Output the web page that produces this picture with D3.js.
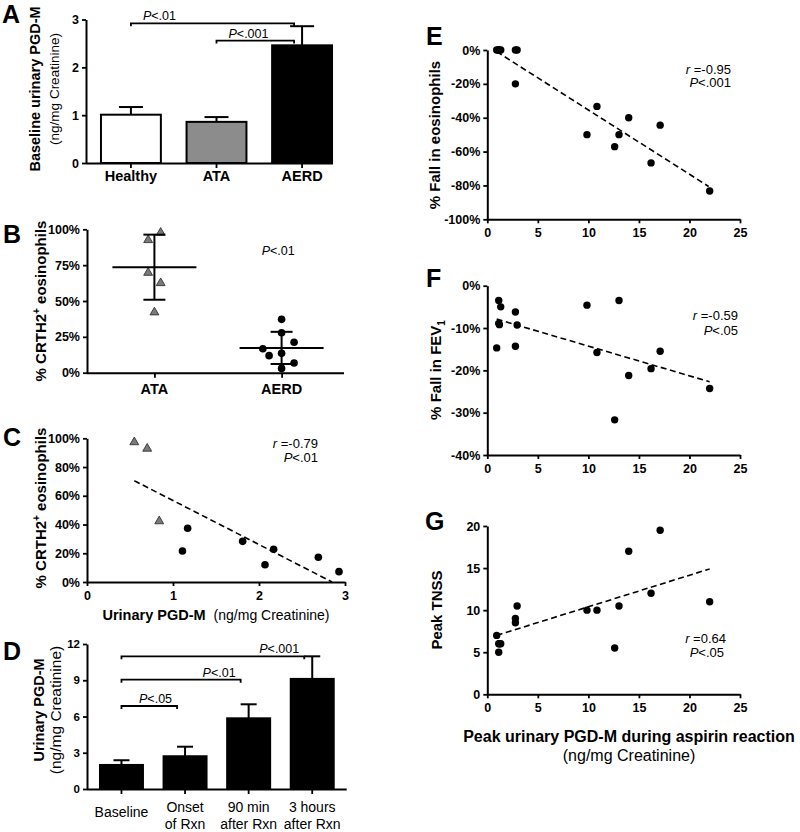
<!DOCTYPE html>
<html><head><meta charset="utf-8">
<script src="https://cdnjs.cloudflare.com/ajax/libs/d3/7.8.5/d3.min.js"></script>
<style>body{margin:0;background:#fff}svg{display:block}</style>
</head><body><svg id="c" width="800" height="832"></svg>
<script>
// ---------------- DATA ----------------
// Panel A
const groupsA = ["Healthy", "ATA", "AERD"];
const meanA = [1.01, 0.86, 2.46];
const errA = [0.16, 0.10, 0.40];
const ticksA = [0, 1, 2, 3];
const sigA = [
  {from: "Healthy", to: "AERD", y: 2.92, p: "<.01"},
  {from: "ATA", to: "AERD", y: 2.56, p: "<.001"}
];
// Panel B
const groupsB = ["ATA", "AERD"];
const crth2ATA = [98.3, 93.2, 70.4, 63.2, 42.8];
const crth2AERD = [37.2, 27.9, 16.7, 21.2, 11.9, 13.5, 6.8, 3.0];
const dodgeATA = [0.5, -0.5, -0.5, 0.5, 0];
const dodgeAERD = [0, 0, -1.5, 1, -1, 0, 1, 0];
const ticksB = [0, 25, 50, 75, 100];
const pB = "<.01";
// Panel C
const pgdmATA = [0.55, 0.70, 0.84];
const crthATA_C = [98, 93.5, 43];
const pgdmAERD = [1.11, 1.17, 1.81, 2.07, 2.17, 2.69, 2.93];
const crthAERD_C = [21.6, 37.4, 28.3, 12.0, 22.8, 17.2, 7.2];
const trendC = [[0.55, 70.5], [2.85, 0]];
const ticksCx = [0, 1, 2, 3];
const ticksCy = [0, 20, 40, 60, 80, 100];
const statC = {r: "-0.79", p: "<.01"};
// Panel D
const timesD = ["Baseline", "Onset|of Rxn", "90 min|after Rxn", "3 hours|after Rxn"];
const meanD = [1.99, 2.71, 5.85, 9.11];
const errD = [0.39, 0.79, 1.16, 1.87];
const ticksD = [0, 3, 6, 9, 12];
const sigD = [
  {from: "Baseline", to: "3 hours|after Rxn", y: 10.98, p: "<.001"},
  {from: "Baseline", to: "90 min|after Rxn", y: 9.05, p: "<.01"},
  {from: "Baseline", to: "Onset|of Rxn", y: 6.87, p: "<.05"}
];
// Panels E, F, G (same subjects)
const peakPGDM = [0.93, 1.13, 1.33, 1.13, 1.2, 2.78, 2.78, 2.95, 9.86, 10.85, 12.6, 13.03, 13.99, 16.2, 17.1, 22.0];
const fallEos  = [0, 0, 0, 0, 0, 0, -20, 0, -50, -33.3, -57.1, -50, -40, -66.7, -44.4, -83.3];
const fallFEV1 = [-14.7, -3.5, -5.0, -8.9, -9.2, -6.2, -14.3, -9.3, -4.6, -15.8, -31.7, -3.5, -21.2, -19.6, -15.5, -24.3];
const peakTNSS = [7, 6, 6, 5, 6, 9, 8.5, 10.5, 10, 10, 5.5, 10.5, 17, 12, 19.5, 11];
const trendE = [[0.93, -1], [21.9, -80.6]];
const trendF = [[0.93, -7.9], [22.0, -22.7]];
const trendG = [[0.93, 7.0], [22.0, 14.9]];
const ticksX = [0, 5, 10, 15, 20, 25];
const ticksEy = [-100, -80, -60, -40, -20, 0];
const ticksFy = [-40, -30, -20, -10, 0];
const ticksGy = [0, 5, 10, 15, 20];
const statE = {r: "-0.95", p: "<.001"};
const statF = {r: "-0.59", p: "<.05"};
const statG = {r: "0.64", p: "<.05"};

// ---------------- DRAWING ----------------
const FONT = '"Liberation Sans", Arial, Helvetica, sans-serif';
const svg = d3.select("#c").attr("font-family", FONT);
const pct = d => d + "%";
const intFmt = d3.format("d");

function styleAxis(ax, size) {
  ax.attr("font-size", null).attr("font-family", null);
  ax.select(".domain").attr("stroke", "#000").attr("stroke-width", 2);
  ax.selectAll(".tick line").attr("stroke", "#000").attr("stroke-width", 1.8);
  ax.selectAll(".tick text").attr("fill", "#000").attr("font-size", size)
    .attr("font-weight", "bold").style("font-weight", "bold");
  return ax;
}
function yAxis(scale, ticks, fmt, x, size) {
  const ax = svg.append("g").attr("transform", `translate(${x},0)`)
    .call(d3.axisLeft(scale).tickValues(ticks).tickFormat(fmt).tickSize(4).tickPadding(3).tickSizeOuter(0));
  return styleAxis(ax, size);
}
function xAxisLinear(scale, ticks, y, size) {
  const ax = svg.append("g").attr("transform", `translate(0,${y})`)
    .call(d3.axisBottom(scale).tickValues(ticks).tickFormat(intFmt).tickSize(4).tickPadding(5).tickSizeOuter(0));
  return styleAxis(ax, size);
}
function xAxisCat(scale, y, x0, x1) {
  const ax = svg.append("g").attr("transform", `translate(0,${y})`)
    .call(d3.axisBottom(scale).tickFormat("").tickSize(5).tickSizeOuter(0));
  ax.select(".domain").remove();
  styleAxis(ax, 12);
  svg.append("line").attr("x1", x0).attr("x2", x1).attr("y1", y + 0.5).attr("y2", y + 0.5)
    .attr("stroke", "#000").attr("stroke-width", 2);
}
function letter(t, x, y) {
  svg.append("text").attr("x", x).attr("y", y).attr("font-size", 25).attr("font-weight", "bold").text(t);
}
function rotText(x, y, size, weight) {
  return svg.append("text").attr("transform", `translate(${x},${y}) rotate(-90)`)
    .attr("text-anchor", "middle").attr("font-size", size).attr("font-weight", weight);
}
function pText(x, y, anchor, size, p) {
  const t = svg.append("text").attr("x", x).attr("y", y).attr("text-anchor", anchor).attr("font-size", size);
  t.append("tspan").attr("font-style", "italic").text("P");
  t.append("tspan").text(p);
  return t;
}
function rText(x, y, size, r) {
  const t = svg.append("text").attr("x", x).attr("y", y).attr("text-anchor", "end").attr("font-size", size);
  t.append("tspan").attr("font-style", "italic").text("r");
  t.append("tspan").text(" =" + r);
  return t;
}
function sigLines(list, xs, ys, labelMode) {
  list.forEach(s => {
    const x1 = xs(s.from) + xs.bandwidth() / 2;
    const x2 = xs(s.to) + xs.bandwidth() / 2 - 8;
    const y = ys(s.y);
    svg.append("path").attr("d", `M${x1},${y + 3}V${y}H${x2}V${y + 3}`)
      .attr("fill", "none").attr("stroke", "#000").attr("stroke-width", 1.8);
    if (labelMode === "start") pText(x1 + 12, y - 3, "start", 12.5, s.p);
    else pText(x2 - 5, y - 3, "end", 12.5, s.p);
  });
}
function trend(xs, ys, pts) {
  svg.append("path").attr("d", d3.line().x(d => xs(d[0])).y(d => ys(d[1]))(pts))
    .attr("fill", "none").attr("stroke", "#000").attr("stroke-width", 1.6).attr("stroke-dasharray", "6,3.5");
}
function dots(xs, ys, xv, yv, r) {
  svg.append("g").selectAll("circle").data(xv).join("circle")
    .attr("cx", d => xs(d)).attr("cy", (d, i) => ys(yv[i])).attr("r", r).attr("fill", "#000");
}
function tris(points) {
  svg.append("g").selectAll("path").data(points).join("path")
    .attr("d", d3.symbol(d3.symbolTriangle, 34))
    .attr("transform", d => `translate(${d[0]},${d[1] + 1})`)
    .attr("fill", "#7a7a7a").attr("stroke", "#333").attr("stroke-width", 0.9);
}

// ===== Panel A =====
{
  const xA = d3.scaleBand().domain(groupsA).range([86, 347]).paddingInner(0.3).paddingOuter(0.175);
  const yA = d3.scaleLinear().domain([0, 3]).range([163, 19.5]);
  const fills = ["#ffffff", "#8c8c8c", "#000000"];
  const bw = xA.bandwidth();
  groupsA.forEach((g, i) => {
    const cx = xA(g) + bw / 2;
    svg.append("line").attr("x1", cx).attr("x2", cx).attr("y1", yA(meanA[i])).attr("y2", yA(meanA[i] + errA[i]))
      .attr("stroke", "#000").attr("stroke-width", 2);
    svg.append("line").attr("x1", cx - 12).attr("x2", cx + 12).attr("y1", yA(meanA[i] + errA[i])).attr("y2", yA(meanA[i] + errA[i]))
      .attr("stroke", "#000").attr("stroke-width", 2);
    svg.append("rect").attr("x", xA(g)).attr("y", yA(meanA[i])).attr("width", bw).attr("height", yA(0) - yA(meanA[i]))
      .attr("fill", fills[i]).attr("stroke", "#000").attr("stroke-width", 2);
    svg.append("text").attr("x", cx).attr("y", 181).attr("text-anchor", "middle")
      .attr("font-size", 14.5).attr("font-weight", "bold").text(g);
  });
  xAxisCat(xA, 163, 86, 333);
  yAxis(yA, ticksA, intFmt, 86, 12.5);
  sigLines(sigA, xA, yA, "start");
  rotText(40, 89, 14.5, "bold").text("Baseline urinary PGD-M");
  rotText(59, 89, 13.5, "normal").text("(ng/mg Creatinine)");
  letter("A", 2, 23);
}

// ===== Panel B =====
{
  const xB = d3.scalePoint().domain(groupsB).range([87, 349]).padding(0.53);
  const yB = d3.scaleLinear().domain([0, 100]).range([372.7, 229.3]);
  const step = 12.5;
  const sets = [crth2ATA, crth2AERD];
  const dodges = [dodgeATA, dodgeAERD];
  const L = (x1, y1, x2, y2) => svg.append("line").attr("x1", x1).attr("y1", y1).attr("x2", x2).attr("y2", y2)
    .attr("stroke", "#000").attr("stroke-width", 2);
  groupsB.forEach((g, gi) => {
    const vals = sets[gi];
    const cx = xB(g);
    const m = d3.mean(vals), sd = d3.deviation(vals);
    if (gi === 0) {
      tris(vals.map((v, i) => [cx + dodges[gi][i] * step, yB(v)]));
    } else {
      svg.append("g").selectAll("circle").data(vals).join("circle")
        .attr("cx", (d, i) => cx + dodges[gi][i] * step).attr("cy", d => yB(d)).attr("r", 3.8).attr("fill", "#000");
    }
    L(cx - 42, yB(m), cx + 42, yB(m));
    L(cx, yB(m - sd), cx, yB(m + sd));
    L(cx - 11, yB(m - sd), cx + 11, yB(m - sd));
    L(cx - 11, yB(m + sd), cx + 11, yB(m + sd));
    svg.append("text").attr("x", cx).attr("y", 394).attr("text-anchor", "middle")
      .attr("font-size", 14.5).attr("font-weight", "bold").text(g);
  });
  const ax = svg.append("g").attr("transform", "translate(0,372.7)")
    .call(d3.axisBottom(xB).tickFormat("").tickSize(5).tickSizeOuter(0));
  ax.select(".domain").remove();
  styleAxis(ax, 12);
  svg.append("line").attr("x1", 87).attr("x2", 344).attr("y1", 373.2).attr("y2", 373.2).attr("stroke", "#000").attr("stroke-width", 2);
  yAxis(yB, ticksB, pct, 87, 12.5);
  pText(261.7, 255, "start", 12.5, pB);
  const t = rotText(46, 301, 15, "bold");
  t.append("tspan").text("% CRTH2");
  t.append("tspan").attr("dy", -6).attr("font-size", 10).text("+");
  t.append("tspan").attr("dy", 6).text(" eosinophils");
  letter("B", 3, 243);
}

// ===== Panel C =====
{
  const xC = d3.scaleLinear().domain([0, 3]).range([87, 345]);
  const yC = d3.scaleLinear().domain([0, 100]).range([582, 438.3]);
  trend(xC, yC, trendC);
  tris(pgdmATA.map((v, i) => [xC(v), yC(crthATA_C[i])]));
  dots(xC, yC, pgdmAERD, crthAERD_C, 3.8);
  xAxisLinear(xC, ticksCx, 582, 12.5);
  yAxis(yC, ticksCy, pct, 87, 12.5);
  rText(318, 447.5, 13, statC.r);
  pText(318, 461.5, "end", 13, statC.p);
  const tt = svg.append("text").attr("x", 216).attr("y", 620).attr("text-anchor", "middle");
  tt.append("tspan").attr("font-size", 14.5).attr("font-weight", "bold").text("Urinary PGD-M");
  tt.append("tspan").attr("dx", 8).attr("font-size", 14).text("(ng/mg Creatinine)");
  const t = rotText(46, 508, 15, "bold");
  t.append("tspan").text("% CRTH2");
  t.append("tspan").attr("dy", -6).attr("font-size", 10).text("+");
  t.append("tspan").attr("dy", 6).text(" eosinophils");
  letter("C", 3, 446);
}

// ===== Panel D =====
{
  const xD = d3.scaleBand().domain(timesD).range([87, 346.7]).paddingInner(0.324).paddingOuter(0.204);
  const yD = d3.scaleLinear().domain([0, 12]).range([789, 644]);
  const bw = xD.bandwidth();
  timesD.forEach((g, i) => {
    const cx = xD(g) + bw / 2;
    svg.append("line").attr("x1", cx).attr("x2", cx).attr("y1", yD(meanD[i])).attr("y2", yD(meanD[i] + errD[i]))
      .attr("stroke", "#000").attr("stroke-width", 2);
    svg.append("line").attr("x1", cx - 8).attr("x2", cx + 8).attr("y1", yD(meanD[i] + errD[i])).attr("y2", yD(meanD[i] + errD[i]))
      .attr("stroke", "#000").attr("stroke-width", 2);
    svg.append("rect").attr("x", xD(g)).attr("y", yD(meanD[i])).attr("width", bw).attr("height", yD(0) - yD(meanD[i]))
      .attr("fill", "#000").attr("stroke", "#000").attr("stroke-width", 2);
    const lines = g.split("|");
    const t = svg.append("text").attr("text-anchor", "middle").attr("font-size", 14);
    if (lines.length === 1) {
      t.attr("x", cx).attr("y", 817).text(lines[0]);
    } else {
      lines.forEach((ln, k) => t.append("tspan").attr("x", cx).attr("y", 811.5 + k * 17.5).text(ln));
    }
  });
  xAxisCat(xD, 789, 87, 346.7);
  yAxis(yD, ticksD, intFmt, 87, 11.5);
  sigLines(sigD, xD, yD, "end");
  rotText(44, 710, 14.5, "bold").text("Urinary PGD-M");
  rotText(61, 710, 15.5, "normal").text("(ng/mg Creatinine)");
  letter("D", 3, 660);
}

// ===== Panels E, F, G =====
const xR = d3.scaleLinear().domain([0, 25]).range([487.3, 740]);
{
  const yE = d3.scaleLinear().domain([-100, 0]).range([219.3, 50]);
  trend(xR, yE, trendE);
  dots(xR, yE, peakPGDM, fallEos, 3.7);
  xAxisLinear(xR, ticksX, 219.3, 12.5);
  yAxis(yE, ticksEy, pct, 487.3, 12.5);
  rText(731, 73.5, 13, statE.r);
  pText(731, 87, "end", 13, statE.p);
  rotText(440, 135, 15, "bold").text("% Fall in eosinophils");
  letter("E", 426, 45);
}
{
  const yF = d3.scaleLinear().domain([-40, 0]).range([455, 285.7]);
  trend(xR, yF, trendF);
  dots(xR, yF, peakPGDM, fallFEV1, 3.7);
  xAxisLinear(xR, ticksX, 455, 12.5);
  yAxis(yF, ticksFy, pct, 487.3, 12.5);
  rText(738, 320, 13, statF.r);
  pText(738, 334.5, "end", 13, statF.p);
  const t = rotText(441, 370, 15, "bold");
  t.append("tspan").text("% Fall in FEV");
  t.append("tspan").attr("dy", 4).attr("font-size", 10).text("1");
  letter("F", 426, 287);
}
{
  const yG = d3.scaleLinear().domain([0, 20]).range([694.3, 526]);
  trend(xR, yG, trendG);
  dots(xR, yG, peakPGDM, peakTNSS, 3.7);
  xAxisLinear(xR, ticksX, 694.3, 12.5);
  yAxis(yG, ticksGy, intFmt, 487.3, 12.5);
  rText(726, 642.5, 13, statG.r);
  pText(724, 657, "end", 13, statG.p);
  rotText(442, 610, 15, "bold").text("Peak TNSS");
  letter("G", 425, 530);
  svg.append("text").attr("x", 629).attr("y", 742).attr("text-anchor", "middle")
    .attr("font-size", 16).attr("font-weight", "bold").text("Peak urinary PGD-M during aspirin reaction");
  svg.append("text").attr("x", 629).attr("y", 761).attr("text-anchor", "middle")
    .attr("font-size", 16).text("(ng/mg Creatinine)");
}
</script>
</body></html>
